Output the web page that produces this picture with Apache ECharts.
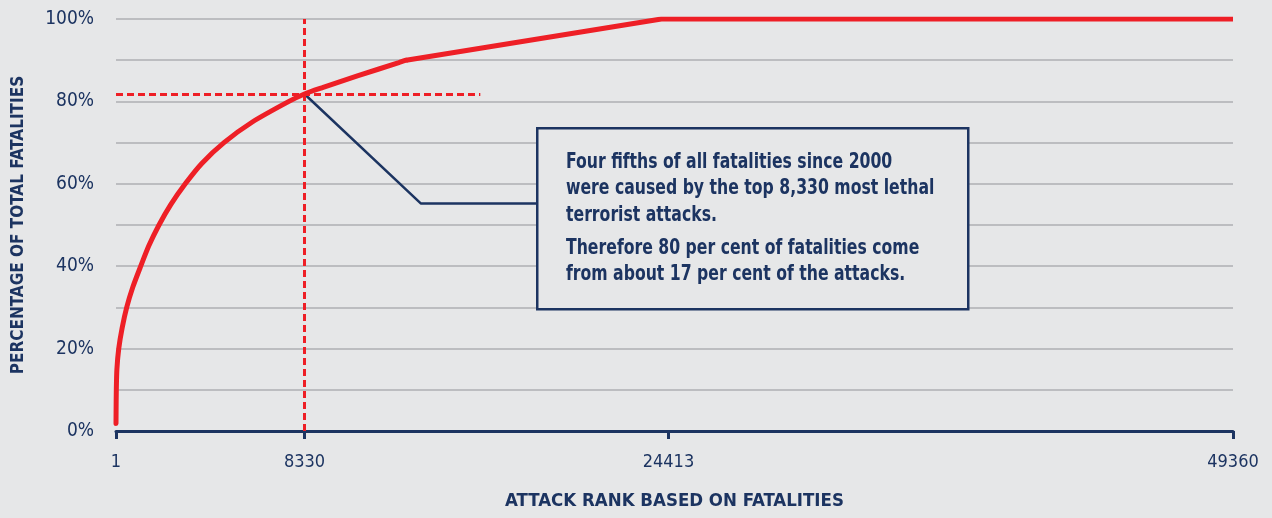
<!DOCTYPE html>
<html>
<head>
<meta charset="utf-8">
<script src="https://cdn.jsdelivr.net/npm/echarts@6/dist/echarts.min.js"></script>
<style>
  html, body { margin: 0; padding: 0; background: #e6e7e8; }
  #chart { width: 1272px; height: 518px; }
</style>
</head>
<body>
<div id="chart"></div>
<script>
// cumulative share of fatalities by attack rank
var curveRanks = [1, 5, 15, 41, 122, 272, 474, 749, 1093, 1456, 1901, 2427, 3062, 3802, 4772, 6026, 7643, 8330, 9155, 10667, 12500, 12820];
var curveShare = [1.8, 5, 10, 15, 20, 25, 30, 35, 40, 45, 50, 55, 60, 65, 70, 75, 80, 81.8, 83.4, 86.2, 89.4, 90];
// straight part after the knee
var tailRanks = [12820, 24100, 49360];
var tailShare = [90, 100, 100];

var rankTicks = [1, 8330, 24413, 49360];
var markerRank = 8330;
var markerShare = 81.8;
var markerEndRank = 16100;
// leader line from the marker to the note box
var leaderRanks = [8330, 13478, 18561];
var leaderShare = [81.8, 55.2, 55.2];

var noteLines1 = ['Four fifths of all fatalities since 2000', 'were caused by the top 8,330 most lethal', 'terrorist attacks.'];
var noteLines2 = ['Therefore 80 per cent of fatalities come', 'from about 17 per cent of the attacks.'];

var NAVY = '#1c3461', RED = '#ee1f26', BG = '#e6e7e8';
var FONT = '"DejaVu Sans Condensed", "Roboto", sans-serif';

function pairs(xs, ys) {
    var out = [];
    for (var i = 0; i < xs.length; i++) out.push([xs[i], ys[i]]);
    return out;
}

var chart = echarts.init(document.getElementById('chart'));
chart.setOption({
    backgroundColor: BG,
    animation: false,
    grid: { left: 116, right: 39, top: 19, bottom: 87, containLabel: false, outerBoundsMode: 'none' },
    xAxis: {
        type: 'value',
        min: 1,
        max: 49360,
        name: 'ATTACK RANK BASED ON FATALITIES',
        nameLocation: 'middle',
        nameGap: 61,
        nameTextStyle: { color: NAVY, fontFamily: FONT, fontWeight: 'bold', fontSize: 18.5 },
        axisLine: { lineStyle: { color: NAVY, width: 3 } },
        axisTick: { show: true, length: 8, customValues: rankTicks, lineStyle: { color: NAVY, width: 3 } },
        axisLabel: {
            customValues: rankTicks,
            margin: 22,
            color: NAVY,
            fontFamily: FONT,
            fontSize: 18,
            formatter: function (v) { return String(v); }
        },
        splitLine: { show: false }
    },
    yAxis: {
        type: 'value',
        min: 0,
        max: 100,
        interval: 10,
        name: 'PERCENTAGE OF TOTAL FATALITIES',
        nameLocation: 'middle',
        nameGap: 89,
        nameRotate: 90,
        nameTextStyle: { color: NAVY, fontFamily: FONT, fontWeight: 'bold', fontSize: 17 },
        axisLine: { show: false },
        axisTick: { show: false },
        axisLabel: {
            margin: 22,
            color: NAVY,
            fontFamily: FONT,
            fontSize: 19,
            formatter: function (v) { return v % 20 === 0 ? v + '%' : ''; }
        },
        splitLine: { lineStyle: { color: '#bcbdc0', width: 2 } }
    },
    series: [
        {
            type: 'line',
            name: 'leader',
            data: pairs(leaderRanks, leaderShare),
            symbol: 'none',
            silent: true,
            lineStyle: { color: NAVY, width: 2.5 },
            z: 3,
            markLine: {
                silent: true,
                symbol: 'none',
                label: { show: false },
                lineStyle: { color: RED, width: 3, type: [7, 4] },
                data: [
                    { xAxis: markerRank },
                    [{ coord: [1, markerShare] }, { coord: [markerEndRank, markerShare] }]
                ]
            }
        },
        {
            type: 'line',
            name: 'curve',
            data: pairs(curveRanks, curveShare),
            smooth: 0.25,
            symbol: 'none',
            lineStyle: { color: RED, width: 5, cap: 'round' },
            z: 4
        },
        {
            type: 'line',
            name: 'tail',
            data: pairs(tailRanks, tailShare),
            symbol: 'none',
            lineStyle: { color: RED, width: 5, join: 'round' },
            z: 4
        }
    ],
    graphic: [
        {
            type: 'rect',
            left: 536,
            top: 127,
            shape: { width: 431, height: 181 },
            style: { fill: BG, stroke: NAVY, lineWidth: 2.5 },
            z: 10
        },
        {
            type: 'text',
            x: 566,
            y: 149,
            scaleX: 0.83,
            style: { text: noteLines1.join('\n'), fill: NAVY, font: 'bold 21px ' + FONT, lineHeight: 26.5, verticalAlign: 'top' },
            z: 11
        },
        {
            type: 'text',
            x: 566,
            y: 235,
            scaleX: 0.83,
            style: { text: noteLines2.join('\n'), fill: NAVY, font: 'bold 21px ' + FONT, lineHeight: 26.5, verticalAlign: 'top' },
            z: 11
        }
    ]
});
</script>
</body>
</html>
